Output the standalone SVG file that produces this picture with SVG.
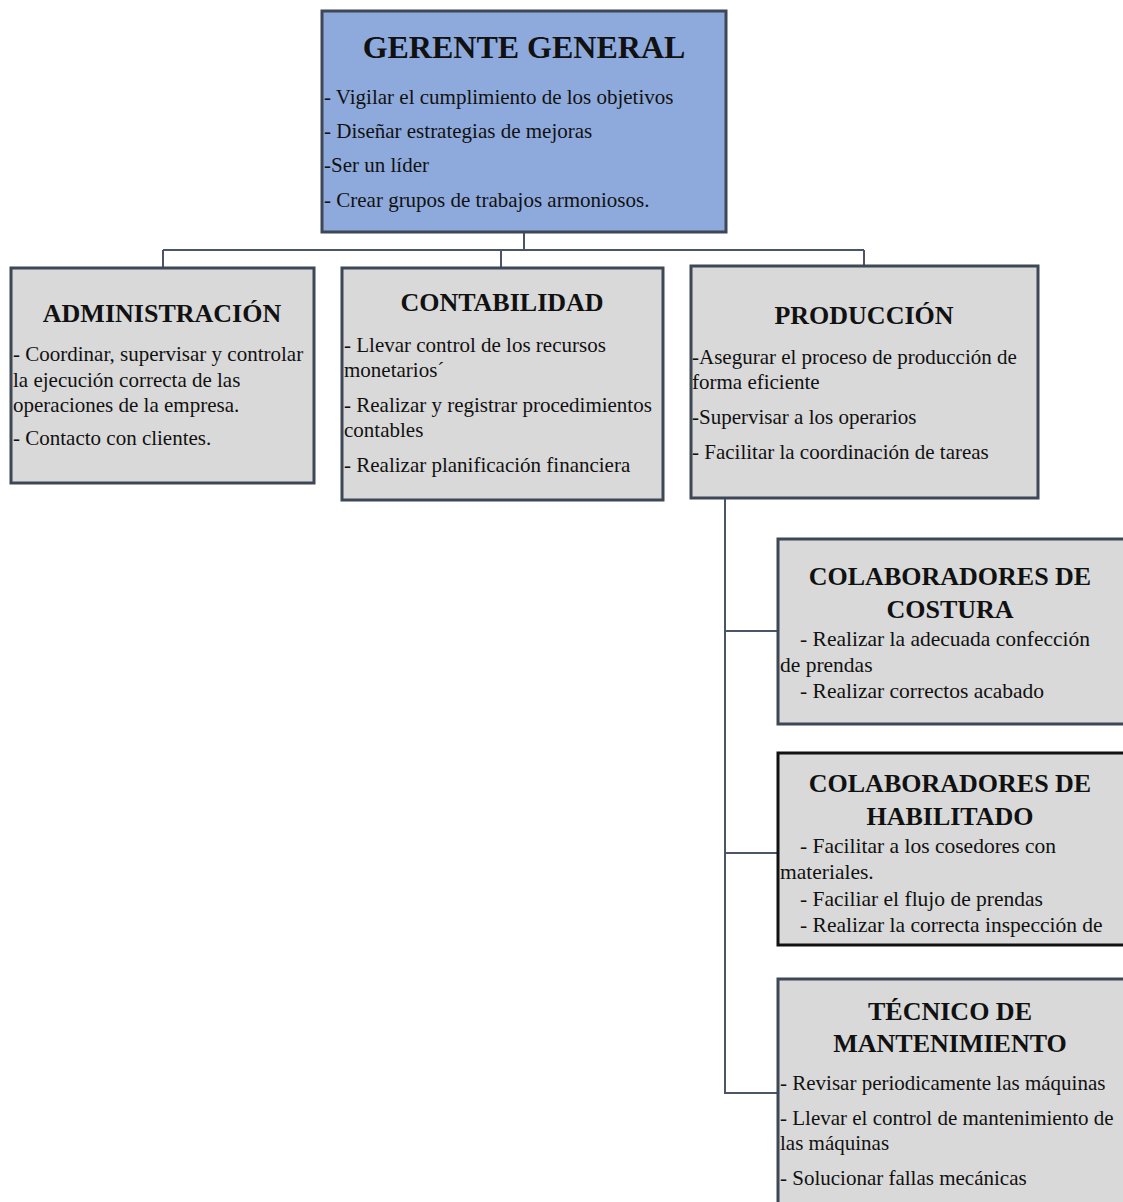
<svg xmlns="http://www.w3.org/2000/svg" width="1123" height="1202" viewBox="0 0 1123 1202">
  <style>
    .box { fill: #d9d9d9; stroke: #3d4756; stroke-width: 3; }
    .boss { fill: #8eaadc; stroke: #3d4756; stroke-width: 3; }
    .dark { stroke: #111111; }
    .title { font-family: "Liberation Serif", "Times New Roman", "DejaVu Serif", serif; font-weight: bold; fill: #111; text-anchor: middle; }
    .t1 { font-size: 32px; }
    .t2 { font-size: 26px; }
    .item { font-family: "Liberation Serif", "Times New Roman", "DejaVu Serif", serif; font-size: 21px; fill: #111; }
    .wide { font-size: 21.5px; }
    .link { fill: none; stroke: #4a5568; stroke-width: 2; }
  </style>
  <rect width="1123" height="1202" fill="#ffffff"/>

  <!-- connectors -->
  <g id="connectors">
    <path class="link" d="M524 232 V250 M163 250 H864 M163 250 V268 M501 250 V268 M864 250 V266"/>
    <path class="link" d="M725 498 V1093 H778 M725 631 H778 M725 853 H778"/>
  </g>

  <g id="gerente">
    <rect class="boss" x="322" y="11" width="404" height="221"/>
    <text class="title t1" x="524" y="58">GERENTE GENERAL</text>
    <text class="item" x="324" y="104">- Vigilar el cumplimiento de los objetivos</text>
    <text class="item" x="324" y="138">- Diseñar estrategias de mejoras</text>
    <text class="item" x="324" y="172">-Ser un líder</text>
    <text class="item" x="324" y="207">- Crear grupos de trabajos armoniosos.</text>
  </g>

  <g id="administracion">
    <rect class="box" x="11" y="268" width="303" height="215"/>
    <text class="title t2" x="162" y="322">ADMINISTRACIÓN</text>
    <text class="item" x="13" y="361">- Coordinar, supervisar y controlar</text>
    <text class="item" x="13" y="387">la ejecución correcta de las</text>
    <text class="item" x="13" y="412">operaciones de la empresa.</text>
    <text class="item" x="13" y="445">- Contacto con clientes.</text>
  </g>

  <g id="contabilidad">
    <rect class="box" x="342" y="268" width="321" height="232"/>
    <text class="title t2" x="502" y="311">CONTABILIDAD</text>
    <text class="item" x="344" y="352">- Llevar control de los recursos</text>
    <text class="item" x="344" y="377">monetarios´</text>
    <text class="item" x="344" y="412">- Realizar y registrar procedimientos</text>
    <text class="item" x="344" y="437">contables</text>
    <text class="item" x="344" y="472">- Realizar planificación financiera</text>
  </g>

  <g id="produccion">
    <rect class="box" x="691" y="266" width="347" height="232"/>
    <text class="title t2" x="864" y="324">PRODUCCIÓN</text>
    <text class="item" x="692" y="364">-Asegurar el proceso de producción de</text>
    <text class="item" x="692" y="389">forma eficiente</text>
    <text class="item" x="692" y="424">-Supervisar a los operarios</text>
    <text class="item" x="692" y="459">- Facilitar la coordinación de tareas</text>
  </g>

  <g id="costura">
    <rect class="box" x="778" y="539" width="350" height="185"/>
    <text class="title t2" x="950" y="585">COLABORADORES DE</text>
    <text class="title t2" x="950" y="618">COSTURA</text>
    <text class="item wide" x="800" y="646">- Realizar la adecuada confección</text>
    <text class="item wide" x="780" y="672">de prendas</text>
    <text class="item wide" x="800" y="698">- Realizar correctos acabado</text>
  </g>

  <g id="habilitado">
    <rect class="box dark" x="778" y="753" width="350" height="192"/>
    <text class="title t2" x="950" y="792">COLABORADORES DE</text>
    <text class="title t2" x="950" y="825">HABILITADO</text>
    <text class="item wide" x="800" y="853">- Facilitar a los cosedores con</text>
    <text class="item wide" x="780" y="879">materiales.</text>
    <text class="item wide" x="800" y="906">- Faciliar el flujo de prendas</text>
    <text class="item wide" x="800" y="932">- Realizar la correcta inspección de</text>
  </g>

  <g id="tecnico">
    <rect class="box" x="778" y="979" width="350" height="230"/>
    <text class="title t2" x="950" y="1020">TÉCNICO DE</text>
    <text class="title t2" x="950" y="1052">MANTENIMIENTO</text>
    <text class="item" x="780" y="1090">- Revisar periodicamente las máquinas</text>
    <text class="item" x="780" y="1125">- Llevar el control de mantenimiento de</text>
    <text class="item" x="780" y="1150">las máquinas</text>
    <text class="item" x="780" y="1185">- Solucionar fallas mecánicas</text>
  </g>
</svg>
